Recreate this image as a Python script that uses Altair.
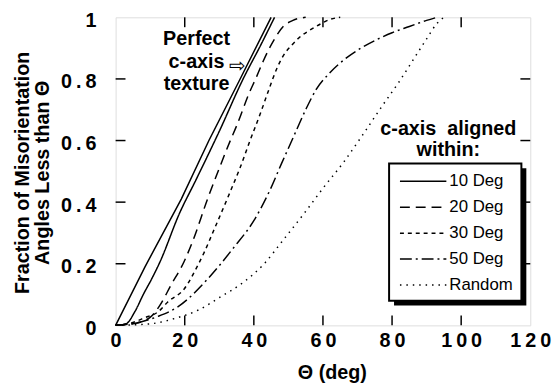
import altair as alt
import pandas as pd

# ---- data ----
series_names = ["10 Deg", "20 Deg", "30 Deg", "50 Deg", "Random"]

perfect_theta = [0, 8.5, 19, 27, 35.6, 45]
perfect_frac = [0, 0.19, 0.41, 0.6, 0.79, 1.0]

deg10_theta = [0, 3, 5.6, 8, 10.4, 12.8, 18.5, 23.2, 30, 36.9, 42, 46]
deg10_frac = [0, 0.005, 0.045, 0.1, 0.15, 0.205, 0.364, 0.471, 0.63, 0.8, 0.91, 1.0]

deg20_theta = [0, 5, 9.9, 12.8, 16, 19.9, 22.3, 26.6, 30, 33.2, 35.1, 38.5, 40.9, 42.8, 46, 48.5, 51.3, 55]
deg20_frac = [0, 0.005, 0.025, 0.065, 0.13, 0.209, 0.273, 0.41, 0.51, 0.6, 0.65, 0.75, 0.81, 0.86, 0.93, 0.97, 0.99, 1.0]

deg30_theta = [0, 4, 8.5, 12.3, 15.1, 19.9, 23.7, 25.6, 28.5, 33.4, 36.1, 38.9, 41.8, 44.5, 46.5, 48.5, 51, 53.2, 56, 59.4, 62, 65]
deg30_frac = [0, 0.006, 0.025, 0.044, 0.076, 0.119, 0.193, 0.236, 0.311, 0.44, 0.514, 0.6, 0.685, 0.77, 0.83, 0.875, 0.91, 0.935, 0.957, 0.979, 0.993, 1.0]

deg50_theta = [0, 7, 12, 18, 26.6, 34, 40, 44.7, 48, 51, 55, 58, 62, 67, 71, 76, 80, 85, 90, 93]
deg50_frac = [0, 0.01, 0.028, 0.06, 0.15, 0.25, 0.34, 0.44, 0.525, 0.6, 0.7, 0.765, 0.82, 0.87, 0.9, 0.93, 0.95, 0.97, 0.99, 1.0]

random_theta = [0, 10, 17, 24, 30, 37, 43, 48, 55, 60, 66, 71, 77, 82, 86, 90, 93, 95]
random_frac = [0, 0.005, 0.022, 0.05, 0.09, 0.14, 0.2, 0.27, 0.37, 0.445, 0.53, 0.61, 0.71, 0.79, 0.86, 0.93, 0.98, 1.0]

x_ticks = [0, 20, 40, 60, 80, 100, 120]
y_ticks = [0, 0.2, 0.4, 0.6, 0.8, 1]
x_inner_ticks = [20, 40, 60, 80, 100]
y_inner_ticks = [0.2, 0.4, 0.6, 0.8]

annotation_lines = ["Perfect", "c-axis", "texture"]
legend_title_lines = ["c-axis\u00a0\u00a0aligned", "within:"]
y_title = ["Fraction of Misorientation", "Angles Less than \u0398"]
x_title = "\u0398 (deg)"

# ---- tables ----
rows = []
for name, th, fr in [
    ("10 Deg", deg10_theta, deg10_frac),
    ("20 Deg", deg20_theta, deg20_frac),
    ("30 Deg", deg30_theta, deg30_frac),
    ("50 Deg", deg50_theta, deg50_frac),
    ("Random", random_theta, random_frac),
]:
    for t, f in zip(th, fr):
        rows.append({"series": name, "theta": t, "frac": f})
df = pd.DataFrame(rows)
df_perfect = pd.DataFrame({"theta": perfect_theta, "frac": perfect_frac})
df_xt = pd.DataFrame({"theta": x_inner_ticks})
df_yt = pd.DataFrame({"frac": y_inner_ticks})
one = pd.DataFrame({"k": [0]})

FONT = "Liberation Sans"
spaced = "join(split(format(datum.value, '~g'), ''), '\u2009')"

x_enc = alt.X(
    "theta:Q",
    scale=alt.Scale(domain=[0, 120], nice=False),
    axis=alt.Axis(
        values=x_ticks, title=x_title, labelExpr=spaced, grid=False, domain=False,
        ticks=False, tickSize=0, labelPadding=5, labelFont=FONT, labelFontSize=20,
        labelFontWeight="bold", labelColor="black", titleFont=FONT, titleFontSize=20,
        titleFontWeight="bold", titleColor="black", titleX=219, titleY=54,
        titleBaseline="alphabetic", titleAlign="center", labelFlush=False,
    ),
)
y_enc = alt.Y(
    "frac:Q",
    scale=alt.Scale(domain=[0, 1], nice=False),
    axis=alt.Axis(
        values=y_ticks, title=y_title, labelExpr=spaced, grid=False, domain=False,
        ticks=False, tickSize=0, labelPadding=20, labelOffset=3, labelFont=FONT,
        labelFontSize=20, labelFontWeight="bold", labelColor="black", titleFont=FONT,
        titleFontSize=20, titleFontWeight="bold", titleColor="black", titleX=-84,
        titleY=157, titleAlign="center", titleBaseline="bottom", titleLineHeight=20,
        labelFlush=False,
    ),
)

dash_range = [[1, 0], [10, 6], [4, 4], [12, 4, 2, 4], [1.5, 5]]

lines = alt.Chart(df).mark_line(color="black", strokeWidth=1.5, interpolate="monotone").encode(
    x=x_enc,
    y=y_enc,
    strokeDash=alt.StrokeDash(
        "series:N",
        scale=alt.Scale(domain=series_names, range=dash_range),
        legend=None,
    ),
)

perfect = alt.Chart(df_perfect).mark_line(color="black", strokeWidth=1.5).encode(x=x_enc, y=y_enc)

shadow = alt.Chart(one).mark_rect(color="black").encode(
    x=alt.value(282), x2=alt.value(416), y=alt.value(153), y2=alt.value(292)
)
box = alt.Chart(one).mark_rect(fill="white", stroke="black", strokeWidth=2).encode(
    x=alt.value(277), x2=alt.value(411), y=alt.value(148), y2=alt.value(287)
)

# hand-built legend entries inside the box
legend_layers = []
for i, (name, dash) in enumerate(zip(series_names, dash_range)):
    ypix = 166 + i * 26.3
    legend_layers.append(
        alt.Chart(one).mark_rule(color="black", strokeWidth=1.5, strokeDash=dash).encode(
            x=alt.value(288), x2=alt.value(335), y=alt.value(ypix)
        )
    )
    legend_layers.append(
        alt.Chart(one).mark_text(
            text=name, font=FONT, fontSize=17, align="left", baseline="middle", color="black"
        ).encode(x=alt.value(338), y=alt.value(ypix))
    )

annot = alt.Chart(one).mark_text(
    text=annotation_lines, font=FONT, fontSize=20, fontWeight="bold",
    align="center", baseline="alphabetic", lineHeight=23, color="black"
).encode(x=alt.value(82), y=alt.value(28))

arrow = alt.Chart(one).mark_text(
    text="\u21e8", font="DejaVu Sans", fontSize=20, align="center",
    baseline="middle", color="black"
).encode(x=alt.value(123), y=alt.value(49))

leg_title = alt.Chart(one).mark_text(
    text=legend_title_lines, font=FONT, fontSize=20, fontWeight="bold",
    align="center", baseline="alphabetic", lineHeight=21, color="black"
).encode(x=alt.value(337), y=alt.value(119))

tick_b = alt.Chart(df_xt).mark_rule(color="black", strokeWidth=1.5).encode(
    x=x_enc, y=alt.value(312), y2=alt.value(302)
)
tick_t = alt.Chart(df_xt).mark_rule(color="black", strokeWidth=1.5).encode(
    x=x_enc, y=alt.value(0), y2=alt.value(10)
)
tick_l = alt.Chart(df_yt).mark_rule(color="black", strokeWidth=1.5).encode(
    y=y_enc, x=alt.value(0), x2=alt.value(10)
)
tick_r = alt.Chart(df_yt).mark_rule(color="black", strokeWidth=1.5).encode(
    y=y_enc, x=alt.value(410), x2=alt.value(420)
)

chart = alt.layer(
    tick_b, tick_t, tick_l, tick_r, lines, perfect, shadow, box, *legend_layers,
    annot, arrow, leg_title
).properties(
    width=420, height=312,
    padding={"left": 109, "top": 7, "right": 22, "bottom": 60},
    autosize=alt.AutoSizeParams(type="none"),
).configure_view(
    stroke="black", strokeWidth=2.5
).configure(background="white")

chart.save("out.html", embed_options={"renderer": "svg", "actions": False})
